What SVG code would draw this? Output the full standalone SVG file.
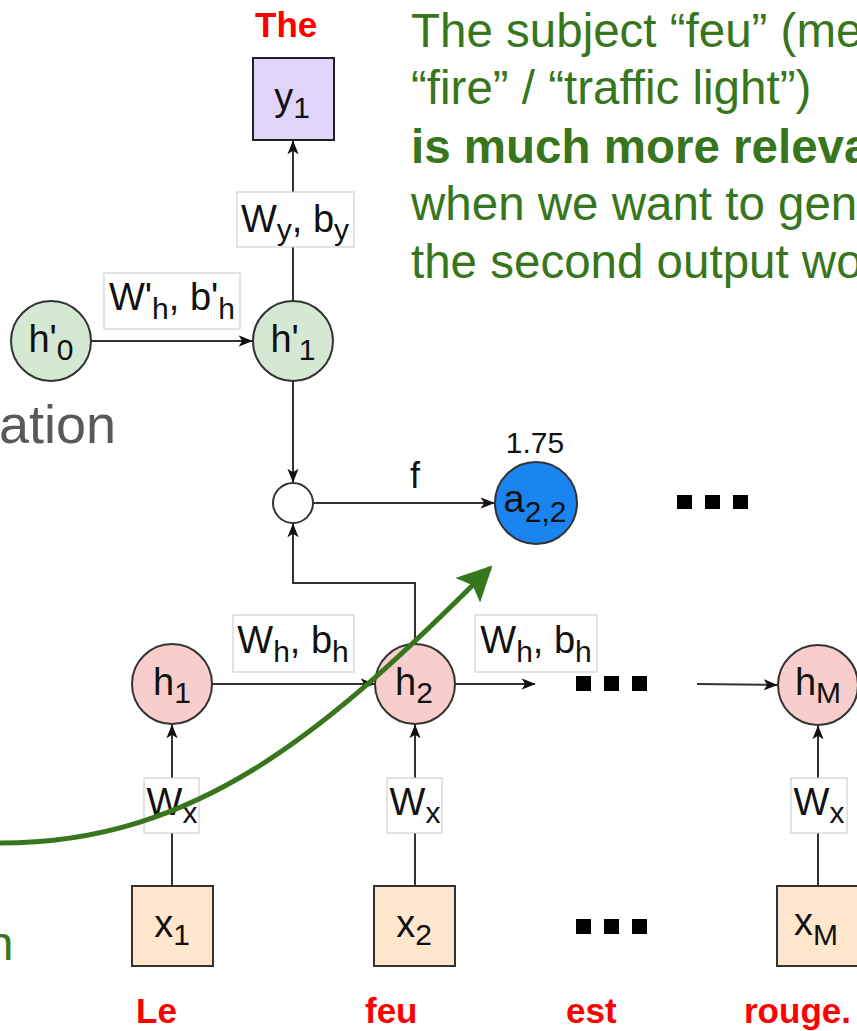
<svg xmlns="http://www.w3.org/2000/svg" width="857" height="1031" viewBox="0 0 857 1031">
<defs>
<style>
text{font-family:"Liberation Sans",Arial,sans-serif;}
.n{font-size:38px;fill:#111;text-anchor:middle;}
.s{font-size:30px;}
.red{font-size:35px;font-weight:bold;fill:#ff0000;}
.grn{font-size:47.5px;fill:#38761d;}
.lbl{fill:#fff;stroke:#c8c8c8;stroke-width:1;}
.c{stroke:#333;stroke-width:2;}
.ln{stroke:#333;stroke-width:2;fill:none;}
.dot{fill:#000;}
</style>
<marker id="ah" viewBox="0 0 20 16" refX="19" refY="8" markerWidth="14" markerHeight="12" markerUnits="userSpaceOnUse" orient="auto">
<path d="M0,0 L20,8 L0,16 L5,8 Z" fill="#111"/>
</marker>
<marker id="gah" viewBox="0 0 20 20" refX="18" refY="10" markerWidth="7" markerHeight="7" orient="auto">
<path d="M0,0 L20,10 L0,20 L4,10 Z" fill="#38761d"/>
</marker>
</defs>
<rect width="857" height="1031" fill="#fff"/>

<g id="connectors">
<line class="ln" x1="91" y1="341" x2="252" y2="341" marker-end="url(#ah)"/>
<line class="ln" x1="293" y1="301" x2="293" y2="141" marker-end="url(#ah)"/>
<line class="ln" x1="293" y1="381" x2="293" y2="482" marker-end="url(#ah)"/>
<line class="ln" x1="313" y1="503" x2="494" y2="503" marker-end="url(#ah)"/>
<polyline class="ln" points="415,644 415,583 293,583 293,524" marker-end="url(#ah)"/>
<line class="ln" x1="212" y1="684" x2="374" y2="684" marker-end="url(#ah)"/>
<line class="ln" x1="455" y1="684" x2="535" y2="684" marker-end="url(#ah)"/>
<line class="ln" x1="697" y1="684" x2="777" y2="685" marker-end="url(#ah)"/>
<line class="ln" x1="172" y1="886" x2="172" y2="725" marker-end="url(#ah)"/>
<line class="ln" x1="415" y1="886" x2="415" y2="725" marker-end="url(#ah)"/>
<line class="ln" x1="818" y1="886" x2="818" y2="726" marker-end="url(#ah)"/>
</g>

<g id="labels">
<rect class="lbl" x="104" y="273" width="136" height="56"/>
<text class="n" x="172" y="310">W'<tspan class="s" dy="9">h</tspan><tspan dy="-9">, b'</tspan><tspan class="s" dy="9">h</tspan></text>
<rect class="lbl" x="237" y="192" width="117" height="55"/>
<text class="n" x="295" y="232">W<tspan class="s" dy="8">y</tspan><tspan dy="-8">, b</tspan><tspan class="s" dy="8">y</tspan></text>
<rect class="lbl" x="233" y="615" width="121" height="57"/>
<text class="n" x="293" y="653">W<tspan class="s" dy="9">h</tspan><tspan dy="-9">, b</tspan><tspan class="s" dy="9">h</tspan></text>
<rect class="lbl" x="475" y="615" width="122" height="57"/>
<text class="n" x="536" y="653">W<tspan class="s" dy="9">h</tspan><tspan dy="-9">, b</tspan><tspan class="s" dy="9">h</tspan></text>
<rect class="lbl" x="144" y="778" width="55" height="55"/>
<text class="n" x="172" y="815">W<tspan class="s" dy="8">x</tspan></text>
<rect class="lbl" x="387" y="778" width="55" height="55"/>
<text class="n" x="415" y="815">W<tspan class="s" dy="8">x</tspan></text>
<rect class="lbl" x="791" y="778" width="56" height="55"/>
<text class="n" x="819" y="815">W<tspan class="s" dy="8">x</tspan></text>
<text class="n" x="415" y="488" style="font-size:36px">f</text>
<text class="n" x="535" y="453" style="font-size:30px">1.75</text>
</g>

<g id="y1">
<rect x="253" y="58" width="81" height="82" fill="#e0d4fb" stroke="#222" stroke-width="2"/>
<text class="n" x="292" y="110">y<tspan class="s" dy="8">1</tspan></text>
</g>
<g id="h0p">
<circle cx="51" cy="341" r="40" fill="#d5e8d4" class="c"/>
<text class="n" x="51" y="352">h'<tspan class="s" dy="8">0</tspan></text>
</g>
<g id="h1p">
<circle cx="293" cy="341" r="40" fill="#d5e8d4" class="c"/>
<text class="n" x="293" y="352">h'<tspan class="s" dy="8">1</tspan></text>
</g>
<g id="combine">
<circle cx="293" cy="503" r="20" fill="#fff" class="c"/>
</g>
<g id="a22">
<circle cx="536" cy="503" r="41" fill="#1a84f0" class="c"/>
<text class="n" x="535" y="512">a<tspan class="s" dy="10">2,2</tspan></text>
</g>
<g id="h1">
<circle cx="172" cy="684" r="40" fill="#f8cecc" class="c"/>
<text class="n" x="172" y="695">h<tspan class="s" dy="8">1</tspan></text>
</g>
<g id="h2">
<circle cx="415" cy="684" r="40" fill="#f8cecc" class="c"/>
<text class="n" x="414" y="695">h<tspan class="s" dy="8">2</tspan></text>
</g>
<g id="hM">
<circle cx="818" cy="685" r="40" fill="#f8cecc" class="c"/>
<text class="n" x="818" y="695">h<tspan class="s" dy="8">M</tspan></text>
</g>
<g id="x1">
<rect x="132" y="886" width="81" height="80" fill="#ffe6cc" stroke="#333" stroke-width="2"/>
<text class="n" x="172" y="937">x<tspan class="s" dy="8">1</tspan></text>
</g>
<g id="x2">
<rect x="374" y="886" width="81" height="80" fill="#ffe6cc" stroke="#333" stroke-width="2"/>
<text class="n" x="414" y="937">x<tspan class="s" dy="8">2</tspan></text>
</g>
<g id="xM">
<rect x="777" y="886" width="81" height="80" fill="#ffe6cc" stroke="#333" stroke-width="2"/>
<text class="n" x="816" y="935">x<tspan class="s" dy="10">M</tspan></text>
</g>
<g id="dots">
<rect class="dot" x="677" y="495" width="15" height="14"/>
<rect class="dot" x="705" y="495" width="15" height="14"/>
<rect class="dot" x="733" y="495" width="15" height="14"/>
<rect class="dot" x="576" y="676" width="15" height="15"/>
<rect class="dot" x="604" y="676" width="15" height="15"/>
<rect class="dot" x="632" y="676" width="15" height="15"/>
<rect class="dot" x="576" y="919" width="15" height="15"/>
<rect class="dot" x="604" y="919" width="15" height="15"/>
<rect class="dot" x="632" y="919" width="15" height="15"/>
</g>

<g id="words">
<text class="red" x="255" y="37">The</text>
<text class="red" x="136" y="1023">Le</text>
<text class="red" x="365" y="1023">feu</text>
<text class="red" x="566" y="1023">est</text>
<text class="red" x="744" y="1023">rouge.</text>
</g>

<g id="annotation">
<text class="grn" x="411" y="47">The subject “feu” (me</text>
<text class="grn" x="411" y="104">“fire” / “traffic light”)</text>
<text class="grn" x="411" y="163" font-weight="bold">is much more releva</text>
<text class="grn" x="411" y="220">when we want to gen</text>
<text class="grn" x="411" y="278">the second output wo</text>
<text x="-1" y="443" style="font-size:54px;fill:#595959">ation</text>
<text class="grn" x="-13" y="960">n</text>
<path d="M0,843 C200,843 330,728 490,568" fill="none" stroke="#38761d" stroke-width="5" marker-end="url(#gah)"/>
</g>
</svg>
